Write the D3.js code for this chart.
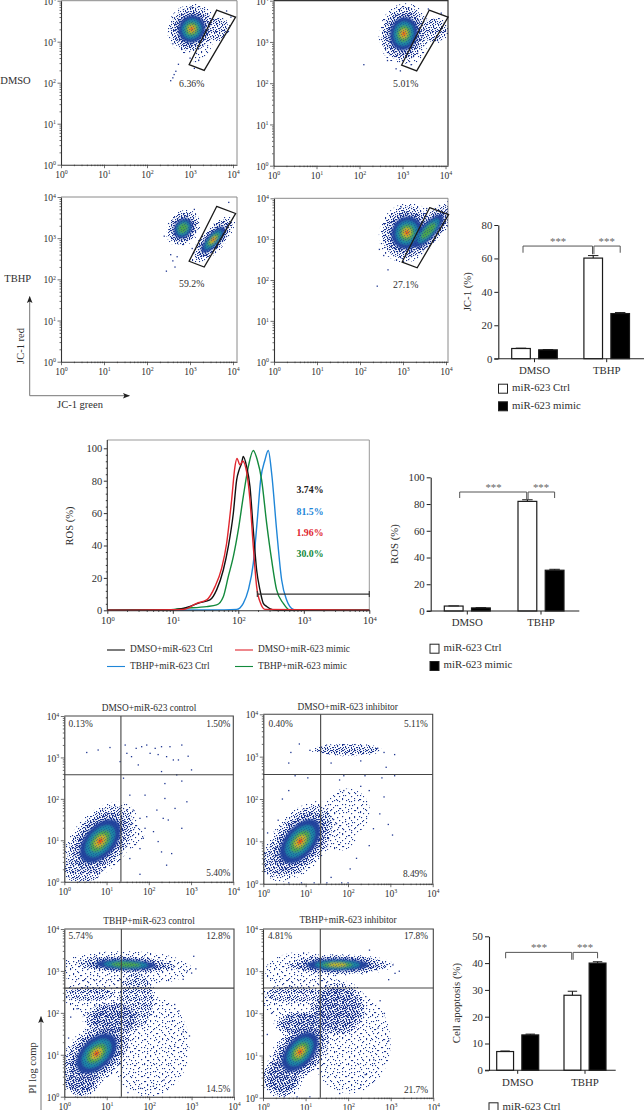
<!DOCTYPE html>
<html><head><meta charset="utf-8">
<script src="https://cdn.jsdelivr.net/npm/d3@7"></script>
<style>
html,body{margin:0;padding:0;background:#fff;overflow:hidden}
svg{display:block}
text{font-family:"Liberation Serif",serif;fill:#2e2e2e}
</style></head><body>
<svg id="c" width="644" height="1110"></svg>
<script>
// ---------- data ----------
// density regions: [log10 x, log10 y, semi-axis a, semi-axis b, tilt deg, peak level 0..7]
const jcDmsoCtrlRegions=[[3.62,3.31,.32,.3,0,1],[3.31,2.8,.38,.14,60,0],[3.04,3.31,.62,.56,70,7]];
const jcDmsoMimicRegions=[[3.73,3.28,.34,.32,0,1],[3.34,2.8,.42,.18,60,0],[3.03,3.2,.74,.58,80,7]];
const jcTbhpCtrlRegions=[[2.84,3.24,.47,.37,60,5],[3.54,2.96,.72,.27,50,7]];
const jcTbhpMimicRegions=[[3.09,3.16,.74,.64,70,7],[3.59,3.2,.92,.32,50,5]];
const apDmsoCtrlRegions=[[.45,.3,.5,.34,0,1],[1.55,1.13,.34,.32,0,0],[.85,.98,1.12,.66,50,7]];
const apDmsoInhRegions=[[.31,.52,.4,.4,0,1],[1.73,1.15,.5,.38,0,0],[1.97,3.16,.85,.15,0,1],[1.97,1.7,.55,.55,0,0],[.87,1.0,1.12,.64,50,7]];
const apTbhpCtrlRegions=[[2.0,1.2,.95,1.2,0,0],[1.4,3.05,1.6,.42,0,0],[1.0,2.4,1.0,.55,0,0],[.6,2.45,.65,.18,0,1],[1.7,2.3,.45,.75,0,1],[1.15,1.85,.72,.46,0,2],[.4,.38,.44,.4,0,2],[1.45,3.15,1.3,.22,-2,5],[.76,1.03,1.05,.64,45,7]];
const apTbhpInhRegions=[[2.05,1.3,.95,1.2,0,0],[.9,3.0,.85,.45,0,0],[1.0,2.3,1.0,.5,0,0],[.7,2.45,.72,.22,0,1],[1.75,2.1,.72,.7,0,2],[.95,1.75,.7,.32,0,2],[.45,.5,.48,.52,0,2],[1.75,3.15,1.32,.25,0,6],[.87,1.09,.98,.58,50,7]];
// single events: [log10 x, log10 y]
const jcDmsoCtrlEvents=[[2.55,2.05],[2.6,2.12],[2.63,2.2],[2.67,2.28],[2.73,2.45],[2.6,2.95],[3.02,3.85],[3.85,3.75],[3.95,3.6],[3.2,2.55],[3.1,2.35],[3.0,2.6]];
const jcDmsoMimicEvents=[[2.1,2.45],[2.65,2.55],[2.85,2.35],[2.95,2.3],[3.0,2.55],[3.2,2.45],[2.7,3.0],[3.9,3.7],[3.6,3.8]];
const jcTbhpCtrlEvents=[[2.45,2.2],[2.65,2.3],[2.6,2.45],[2.7,2.55],[2.4,3.05],[3.1,3.7],[3.9,3.87],[2.55,2.6],[3.05,2.75]];
const jcTbhpMimicEvents=[[2.4,1.85],[2.65,2.25],[2.55,2.6],[2.45,2.75],[2.95,3.8],[3.55,3.75]];
const apDmsoCtrlEvents=[[.53,3.12],[.8,3.18],[1.08,3.24],[1.32,2.9],[1.44,3.3],[1.48,3.1],[1.59,3.02],[1.7,3.22],[1.83,3.26],[1.95,3.3],[2.03,3.1],[2.15,3.22],[2.22,3.07],[2.3,3.26],[2.42,3.02],[2.5,3.26],[2.58,2.94],[2.7,2.94],[2.78,3.3],[2.93,3.03],[2.3,2.66],[2.66,2.58],[3.01,2.7],[1.75,2.82],[1.4,2.5],[1.55,2.09],[1.91,2.09],[2.38,2.37],[2.78,2.43],[2.9,1.93],[2.38,2.01],[2.62,1.77],[2.19,1.73],[1.95,1.57],[1.79,1.53],[2.34,1.53],[2.46,1.49],[2.78,1.29],[2.11,1.21],[1.87,1.05],[1.79,.8],[2.22,.97],[2.54,.68],[2.3,.72],[2.42,.4],[1.79,.18],[1.55,.56],[1.91,1.29],[1.63,1.73]];
const apDmsoInhEvents=[[.65,3.1],[.85,3.3],[.6,2.85],[1.1,3.15],[2.7,3.2],[2.85,3.1],[3.1,3.05],[2.9,2.75],[2.3,2.9],[1.6,2.85],[1.9,2.55],[1.8,2.45],[2.4,2.55],[2.8,2.5],[3.1,2.55],[.75,2.55],[1.05,2.5],[1.9,2.2],[2.3,2.3],[2.5,2.2],[2.85,2.05],[2.75,1.65],[2.95,1.4],[2.6,1.3],[3.05,1.15],[2.5,.9],[2.2,.6],[2.05,.35],[1.6,.15],[.6,.02],[.9,.02],[1.2,.02],[1.5,.02],[1.85,.02],[2.0,.02],[.1,1.2],[.35,1.5],[.45,2.0],[.6,2.2]];
const apTbhpCtrlEvents=[[3.1,3.05],[3.0,2.95],[2.9,3.0],[2.8,2.8],[3.05,3.35],[2.6,2.2],[2.7,2.05],[2.55,1.8],[2.8,1.55],[2.95,1.45],[2.6,1.2],[2.35,.4],[2.1,.25],[1.8,.2],[1.5,.1],[.1,1.4],[.15,1.9],[.3,2.1]];
const apTbhpInhEvents=[[3.2,3.0],[3.1,2.95],[3.05,3.15],[2.95,2.8],[2.75,2.3],[2.85,2.0],[2.7,1.65],[2.95,1.35],[2.6,.9],[2.4,.55],[2.3,.3],[1.8,.1],[.1,1.5],[.2,2.0],[2.5,3.5],[.5,.02],[.8,.02],[1.1,.02]];
// gate polygon in log10 coordinates
const gateCorners=[[3.62,3.77],[4.06,3.6],[3.33,2.3],[2.98,2.44]];
const decades=[0,1,2,3,4];

// ROS histogram: log10 fluorescence and percent of maximum
const rosBlackX=[0,.906,1.16,1.415,1.567,1.669,1.771,1.847,1.924,1.975,2.015,2.05,2.076,2.127,2.178,2.229,2.28,2.331,2.382,2.433,2.534,2.636,4];
const rosBlackY=[0,.2,1.2,4.7,6.4,12.6,24.9,39.3,59.9,80.5,87,90.7,94.9,88.7,76.3,49.6,24.9,12.6,4.3,2.3,.2,0,0];
const rosBlueX=[0,1.567,1.975,2.076,2.153,2.229,2.29,2.341,2.407,2.458,2.509,2.585,2.662,2.738,2.84,2.916,4];
const rosBlueY=[0,.2,.6,4.3,12.6,29,55.8,80.5,92.8,98.6,84.6,49.6,18.7,6.4,.6,0,0];
const rosGreenX=[0,.906,1.16,1.517,1.669,1.771,1.847,1.924,2.0,2.076,2.153,2.229,2.29,2.356,2.433,2.509,2.585,2.687,2.788,4];
const rosGreenY=[0,.2,1.2,2.3,3.3,8.4,20.8,33.1,49.6,70.2,88.7,98.6,92.8,80.5,53.7,31.1,12.6,4.3,.2,0];
const rosRedX=[0,1.16,1.364,1.517,1.644,1.746,1.822,1.898,1.949,1.98,2.025,2.066,2.127,2.178,2.229,2.28,2.34,2.407,4];
const rosRedY=[0,.5,4.3,6.4,14.6,26,41.4,68.1,88.7,93.8,89.7,92.2,85.4,68.1,39.3,14.6,4.3,.6,0];
const rosTicks=[0,20,40,60,80,100];
const rosGate=[2.29,4];
const rosGateLevel=10;

// bars
const barGroups=['DMSO','TBHP'];
const jcCtrl=[6.1,60.2],jcCtrlErr=[.2,1.5],jcMimic=[5.3,27],jcMimicErr=[.2,.6],jcTicks=[0,20,40,60,80];
const rosCtrl=[3.7,82],rosCtrlErr=[.1,1.2],rosMimic=[2.3,30.5],rosMimicErr=[.2,.7],rosBarTicks=[0,20,40,60,80,100];
const apCtrl=[7,28],apCtrlErr=[.2,1.5],apMimic=[13.2,40],apMimicErr=[.3,.5],apTicks=[0,10,20,30,40,50];

// ---------- drawing ----------
const svg=d3.select('#c');
const defs=svg.append('defs');
const BLUE='#1d3590';
// stipple tiles (texture only)
const tileA=[[1,1],[6,0],[3,4],[9,3],[0,7],[6,6],[10,8],[3,9]];
const tileB=[[2,0],[9,2],[14,1],[5,5],[12,6],[0,9],[8,10],[15,11],[3,13],[11,14]];
const tileC=[[0,0],[3,0],[6,1],[1,2],[4,3],[7,3],[2,4],[0,5],[5,5],[3,6],[7,6],[1,7],[5,7]];
const tileD=[[1,0],[4,1],[2,2],[0,3],[5,3],[3,4],[1,5],[4,5]];
function stipple(id,size,dots){
  const p=defs.append('pattern').attr('id',id).attr('width',size).attr('height',size).attr('patternUnits','userSpaceOnUse');
  p.selectAll('rect').data(dots).join('rect').attr('x',d=>d[0]).attr('y',d=>d[1]).attr('width',1.1).attr('height',1.1).attr('fill',BLUE);
}
stipple('spA',12,tileA);stipple('spB',17,tileB);stipple('spC',8,tileC);stipple('spD',6,tileD);
defs.append('filter').attr('id','soft').append('feGaussianBlur').attr('stdDeviation',.3);
defs.append('filter').attr('id','soft2').append('feGaussianBlur').attr('stdDeviation',.9);
let clipN=0;
const stippleLevels=[['url(#spA)','url(#spB)'],['url(#spC)'],['url(#spC)','url(#spD)']];
const solidLevels=['#23459f','#1f86a4','#4aa54e','#c9b72a','#e2361c'];
const levelScale=[1,.88,.72,.55,.4,.27,.16,.07];

function sup(sel,exp,fs){
  sel.text(null);
  sel.append('tspan').text('10').attr('font-size',fs);
  sel.append('tspan').text(exp).attr('font-size',fs*.62).attr('dy',-fs*.36);
}
function minorValues(){
  const v=[];
  decades.forEach(d=>{ for(let k=1;k<10;k++){ const t=k*10**d; if(t<=1e4) v.push(t);} });
  return v;
}
const isMajor=d=>Math.abs(Math.log10(d)-Math.round(Math.log10(d)))<1e-6;
function logAxes(g,x,y,box,fs){
  const ax=g.append('g').attr('transform',`translate(0,${box.b})`).call(d3.axisBottom(x).tickValues(minorValues()).tickSize(1.5).tickSizeOuter(0));
  const ay=g.append('g').attr('transform',`translate(${box.l},0)`).call(d3.axisLeft(y).tickValues(minorValues()).tickSize(1.5).tickSizeOuter(0));
  [ax,ay].forEach((a,i)=>{
    a.select('.domain').attr('stroke','#333').attr('stroke-width',1.1);
    a.selectAll('.tick line').attr('stroke','#333').attr('stroke-width',.7).filter(isMajor).attr(i?'x2':'y2',i?-3.5:3.5);
    a.selectAll('.tick text').each(function(d){
      const s=d3.select(this);
      if(isMajor(d)){ sup(s,Math.round(Math.log10(d)),fs); if(i){s.attr('x',-5);s.attr('dy','.36em');} else {s.attr('y',6);} }
      else s.remove();
    });
  });
}
function ellipsePath(x,y,r,f){
  const th=r[4]*Math.PI/180, pts=d3.range(0,Math.PI*2+.01,Math.PI/18).map(t=>{
    const u=r[2]*f*Math.cos(t), v=r[3]*f*Math.sin(t);
    return [x(10**(r[0]+u*Math.cos(th)-v*Math.sin(th))), y(10**(r[1]+u*Math.sin(th)+v*Math.cos(th)))];
  });
  return d3.line().curve(d3.curveCardinalClosed)(pts);
}
function flowPanel(o){
  const b=o.box, x=d3.scaleLog().domain([1,o.xMax]).range([b.l,b.r]), y=d3.scaleLog().domain([1,o.yMax||1e4]).range([b.b,b.t]);
  const g=svg.append('g');
  const id='clip'+(clipN++);
  defs.append('clipPath').attr('id',id).append('rect').attr('x',b.l).attr('y',b.t).attr('width',b.r-b.l).attr('height',b.b-b.t);
  const clip=g.append('g').attr('clip-path',`url(#${id})`);
  const dots=clip.append('g').attr('filter','url(#soft)');
  stippleLevels.forEach((fills,lev)=>fills.forEach(fill=>{
    dots.append('g').selectAll('path').data(o.regions.filter(r=>r[5]>=lev)).join('path')
      .attr('d',r=>ellipsePath(x,y,r,levelScale[lev])).attr('fill',fill);
  }));
  const core=clip.append('g').attr('filter','url(#soft2)');
  solidLevels.forEach((fill,i)=>{
    const lev=i+3;
    core.append('g').selectAll('path').data(o.regions.filter(r=>r[5]>=lev)).join('path')
      .attr('d',r=>ellipsePath(x,y,r,levelScale[lev])).attr('fill',fill);
  });
  clip.append('g').selectAll('path').data(o.regions.filter(r=>r[5]>=3)).join('path')
    .attr('d',r=>ellipsePath(x,y,r,levelScale[3])).attr('fill','url(#spC)').attr('opacity',.45);
  clip.append('g').selectAll('rect').data(o.events).join('rect')
    .attr('x',d=>x(10**d[0])-.6).attr('y',d=>y(10**d[1])-.6).attr('width',1.3).attr('height',1.3).attr('fill',BLUE);
  g.append('path').attr('d',`M${b.l},${b.t}H${b.r}V${b.b}`).attr('fill','none').attr('stroke',o.frame||'#8a8a8a').attr('stroke-width',o.frameW||1);
  if(o.quad){
    g.append('line').attr('x1',x(10**o.quad[0])).attr('x2',x(10**o.quad[0])).attr('y1',b.t).attr('y2',b.b).attr('stroke','#444').attr('stroke-width',1.1);
    g.append('line').attr('x1',b.l).attr('x2',b.r).attr('y1',y(10**o.quad[1])).attr('y2',y(10**o.quad[1])).attr('stroke','#444').attr('stroke-width',1.1);
  }
  if(o.gate){
    g.append('path').attr('d',d3.line().curve(d3.curveLinearClosed)(gateCorners.map(c=>[x(10**c[0]),y(10**c[1])]))).attr('fill','none').attr('stroke','#1a1a1a').attr('stroke-width',1.3);
  }
  logAxes(g,x,y,b,o.fs||9.5);
}
function label(t,xp,yp,fs,col,rot,weight){
  const s=svg.append('text').text(t).attr('text-anchor','middle').attr('dominant-baseline','middle').attr('font-size',fs);
  if(rot) s.attr('transform',`translate(${xp},${yp}) rotate(${rot})`); else s.attr('x',xp).attr('y',yp);
  if(col) s.style('fill',col);
  if(weight) s.attr('font-weight',weight);
  return s;
}
flowPanel({box:{l:61,r:237,t:.7,b:164.7},xMax:10**(176/43),regions:jcDmsoCtrlRegions,events:jcDmsoCtrlEvents,gate:true});
flowPanel({box:{l:273.5,r:448,t:.7,b:165.7},xMax:10**(174.5/43),regions:jcDmsoMimicRegions,events:jcDmsoMimicEvents,gate:true,frame:'#333',frameW:1.2});
flowPanel({box:{l:61,r:237,t:197,b:361.7},xMax:10**(176/43),regions:jcTbhpCtrlRegions,events:jcTbhpCtrlEvents,gate:true});
flowPanel({box:{l:274,r:448,t:198.3,b:361.7},xMax:10**(174/43),regions:jcTbhpMimicRegions,events:jcTbhpMimicEvents,gate:true});
[['6.36%',191.7,84.7],['5.01%',405.7,84.7],['59.2%',191.7,285],['27.1%',405.7,285.7]].forEach(d=>label(d[0],d[1],d[2],9.8));
label('DMSO',15.5,81.7,10.5);label('TBHP',17.7,279.3,10.5);
label('JC-1 red',21.7,346,10.5,null,-90);label('JC-1 green',80,405.7,10.5);
function arrowHead(id){
  defs.append('marker').attr('id',id).attr('viewBox','0 0 10 10').attr('refX',9).attr('refY',5).attr('markerWidth',8).attr('markerHeight',7).attr('orient','auto')
    .append('path').attr('d','M0,1L10,5L0,9L2,5Z').attr('fill','#222');
}
arrowHead('arr');
const arrow=(x1,y1,x2,y2)=>svg.append('line').attr('x1',x1).attr('y1',y1).attr('x2',x2).attr('y2',y2).attr('stroke','#777').attr('stroke-width',1).attr('marker-end','url(#arr)');
arrow(29.7,395.7,29.7,296.7);arrow(29.7,395.7,129.3,395.7);
arrow(41,1110,41,1016.7);
label('PI log comp',34,1068,10.5,null,-90);

const quadP={xMax:1e4,frame:'#444',frameW:1.1,fs:9.5};
flowPanel({...quadP,box:{l:64.3,r:233.3,t:716,b:881.7},regions:apDmsoCtrlRegions,events:apDmsoCtrlEvents,quad:[1.34,2.58]});
flowPanel({...quadP,box:{l:263.3,r:432.7,t:714.3,b:883.7},regions:apDmsoInhRegions,events:apDmsoInhEvents,quad:[1.354,2.58]});
flowPanel({...quadP,box:{l:64.3,r:234,t:929,b:1096.7},regions:apTbhpCtrlRegions,events:apTbhpCtrlEvents,quad:[1.345,2.59]});
flowPanel({...quadP,box:{l:263,r:433.3,t:929,b:1097.7},regions:apTbhpInhRegions,events:apTbhpInhEvents,quad:[1.346,2.6]});
[['DMSO+miR-623 control',149,708.7],['DMSO+miR-623 inhibitor',347.7,707.7],['TBHP+miR-623 control',149,921.7],['TBHP+miR-623 inhibitor',348,920.7]].forEach(d=>label(d[0],d[1],d[2],9.4));
[['0.13%',80.7,725],['1.50%',218.3,725],['5.40%',218.3,874],['0.40%',280.7,725],['5.11%',416,725],['8.49%',415,875],['5.74%',80.7,937.3],['12.8%',218.3,936.7],['14.5%',218.3,1090],['4.81%',280,936.7],['17.8%',416,936.7],['21.7%',416,1091]].forEach(d=>label(d[0],d[1],d[2],9.4));

(function(){
  const b={l:107.3,r:369.3,t:440,b:610.3};
  const x=d3.scaleLog().domain([1,1e4]).range([b.l,b.r]), y=d3.scaleLinear().domain([0,100]).range([b.b,448.3]);
  const g=svg.append('g');
  g.append('path').attr('d',`M${b.l},${b.t}H${b.r}V${b.b}`).attr('fill','none').attr('stroke','#999').attr('stroke-width',1);
  const series=[[rosBlueX,rosBlueY,'#1f86d8'],[rosGreenX,rosGreenY,'#138a3c'],[rosBlackX,rosBlackY,'#111'],[rosRedX,rosRedY,'#e0262e']];
  series.forEach(s=>{
    g.append('path').attr('d',d3.line().x(d=>x(10**d)).y((d,i)=>y(s[1][i])).curve(d3.curveMonotoneX)(s[0])).attr('fill','none').attr('stroke',s[2]).attr('stroke-width',1.4);
  });
  g.append('line').attr('x1',x(10**rosGate[0])).attr('x2',x(10**rosGate[1])).attr('y1',y(rosGateLevel)).attr('y2',y(rosGateLevel)).attr('stroke','#333').attr('stroke-width',1.1);
  rosGate.forEach(v=>g.append('line').attr('x1',x(10**v)).attr('x2',x(10**v)).attr('y1',y(rosGateLevel)-3).attr('y2',y(rosGateLevel)+3).attr('stroke','#333').attr('stroke-width',1.1));
  const ax=g.append('g').attr('transform',`translate(0,${b.b})`).call(d3.axisBottom(x).tickValues(minorValues()).tickSize(1.5).tickSizeOuter(0));
  ax.select('.domain').attr('stroke','#333').attr('stroke-width',1.1);
  ax.selectAll('.tick line').attr('stroke','#333').filter(isMajor).attr('y2',3.5);
  ax.selectAll('.tick text').each(function(d){const s=d3.select(this); if(isMajor(d)){sup(s,Math.round(Math.log10(d)),10.5);s.attr('y',7);} else s.remove();});
  const ay=g.append('g').attr('transform',`translate(${b.l},0)`).call(d3.axisLeft(y).tickValues(d3.range(0,101,4)).tickSize(1.5).tickSizeOuter(0).tickFormat(d=>rosTicks.includes(d)?d:''));
  ay.select('.domain').attr('d',`M0,${b.b}V${b.t}`).attr('stroke','#333').attr('stroke-width',1.1);
  ay.selectAll('.tick line').attr('stroke','#333').filter(d=>rosTicks.includes(d)).attr('x2',-3.5);
  ay.selectAll('.tick text').attr('font-size',10.5).attr('font-family','Liberation Serif').attr('x',-5);
  label('ROS (%)',71,526,10.5,null,-90);
  [['3.74%',310,491,'#222'],['81.5%',310,512.7,'#1f86d8'],['1.96%',310,534,'#e0262e'],['30.0%',310,555,'#138a3c']].forEach(d=>label(d[0],d[1],d[2],9.8,d[3],null,'bold'));
  const leg=[[107,650,125,'DMSO+miR-623 Ctrl','#111',130],[235,650,253,'DMSO+miR-623 mimic','#e0262e',258],[107,666.5,125,'TBHP+miR-623 Ctrl','#1f86d8',130],[235,666.5,253,'TBHP+miR-623 mimic','#138a3c',258]];
  leg.forEach(d=>{
    g.append('line').attr('x1',d[0]).attr('x2',d[2]).attr('y1',d[1]).attr('y2',d[1]).attr('stroke',d[4]).attr('stroke-width',1.1);
    svg.append('text').text(d[3]).attr('x',d[5]).attr('y',d[1]).attr('dominant-baseline','middle').attr('font-size',9.4);
  });
})();

function barChart(o){
  const y=d3.scaleLinear().domain([0,o.max]).range([o.y0,o.yTop]);
  const step=o.c1-o.c0;
  const x=d3.scaleBand().domain(barGroups).range([o.c0-step/2,o.c1+step/2]);
  const sub=d3.scaleBand().domain(['ctrl','mimic']).range([-o.half,o.half]).paddingInner(o.gap);
  const g=svg.append('g');
  const series=[['ctrl',o.ctrl,o.ctrlErr,'#fff'],['mimic',o.mimic,o.mimicErr,'#000']];
  series.forEach(s=>barGroups.forEach((gr,i)=>{
    const bx=x(gr)+x.bandwidth()/2+sub(s[0]), w=sub.bandwidth();
    g.append('rect').attr('x',bx).attr('y',y(s[1][i])).attr('width',w).attr('height',y(0)-y(s[1][i])).attr('fill',s[3]).attr('stroke','#1a1a1a').attr('stroke-width',1.2);
    const top=y(s[1][i]+s[2][i]);
    g.append('line').attr('x1',bx+w/2).attr('x2',bx+w/2).attr('y1',y(s[1][i])).attr('y2',top).attr('stroke','#1a1a1a').attr('stroke-width',1.1);
    g.append('line').attr('x1',bx+w*.22).attr('x2',bx+w*.78).attr('y1',top).attr('y2',top).attr('stroke','#1a1a1a').attr('stroke-width',1);
  }));
  const ay=g.append('g').attr('transform',`translate(${o.ax},0)`).call(d3.axisLeft(y).tickValues(o.ticks).tickSize(4).tickSizeOuter(0));
  ay.select('.domain').attr('stroke','#222').attr('stroke-width',1.1);
  ay.selectAll('.tick line').attr('stroke','#222').attr('stroke-width',1);
  ay.selectAll('.tick text').attr('font-size',10.8).attr('font-family','Liberation Serif').attr('x',-6);
  g.append('line').attr('x1',o.ax-4).attr('x2',o.axEnd).attr('y1',o.y0).attr('y2',o.y0).attr('stroke','#222').attr('stroke-width',1.1);
  barGroups.forEach(gr=>{
    const c=x(gr)+x.bandwidth()/2;
    g.append('line').attr('x1',c).attr('x2',c).attr('y1',o.y0).attr('y2',o.y0+3.5).attr('stroke','#222').attr('stroke-width',1);
    label(gr,c,o.y0+o.catDy,10.8);
  });
  label(o.title,o.titleX,o.titleY,10.8,null,-90);
  const cc=(gr,k)=>x(gr)+x.bandwidth()/2+sub(k)+sub.bandwidth()/2;
  const bt=y(o.brTop), bd=y(o.brDrop);
  const a=cc('DMSO','ctrl')+o.brLeftShift, m=cc('TBHP','ctrl'), n=cc('TBHP','mimic');
  g.append('path').attr('d',`M${a},${bd}V${bt}H${m-.7}V${bd+1.5}M${m+.7},${bd+1.5}V${bt}H${n}V${bd}`).attr('fill','none').attr('stroke','#555').attr('stroke-width',1);
  label('***',(a+m)/2,bt-3.6,10.8,'#666');
  label('***',(m+n)/2,bt-3.6,10.8,'#666');
  [['miR-623 Ctrl','#fff',o.legY0],['miR-623 mimic','#000',o.legY1]].forEach(d=>{
    if(d[2]==null) return;
    svg.append('rect').attr('x',o.legX).attr('y',d[2]-4.5).attr('width',9).attr('height',9).attr('fill',d[1]).attr('stroke','#222').attr('stroke-width',1);
    svg.append('text').text(d[0]).attr('x',o.legX+13.5).attr('y',d[2]).attr('dominant-baseline','middle').attr('font-size',10.8);
  });
}
barChart({ctrl:jcCtrl,ctrlErr:jcCtrlErr,mimic:jcMimic,mimicErr:jcMimicErr,ticks:jcTicks,max:80,y0:358.7,yTop:225,c0:534.5,c1:606.7,half:22.8,gap:.31,ax:498.3,axEnd:644,catDy:12.5,title:'JC-1 (%)',titleX:468.3,titleY:291.7,brTop:67.4,brDrop:63.4,brLeftShift:2,legX:498.5,legY0:388.7,legY1:406.3});
barChart({ctrl:rosCtrl,ctrlErr:rosCtrlErr,mimic:rosMimic,mimicErr:rosMimicErr,ticks:rosBarTicks,max:100,y0:611,yTop:477.3,c0:467.3,c1:541,half:23,gap:.31,ax:430.7,axEnd:579.3,catDy:12.5,title:'ROS (%)',titleX:396,titleY:544,brTop:89,brDrop:84.5,brLeftShift:6,legX:430,legY0:648.7,legY1:666});
barChart({ctrl:apCtrl,ctrlErr:apCtrlErr,mimic:apMimic,mimicErr:apMimicErr,ticks:apTicks,max:50,y0:1070.3,yTop:936.3,c0:517.7,c1:585,half:21,gap:.33,ax:489,axEnd:615.7,catDy:13,title:'Cell apoptosis (%)',titleX:457.3,titleY:1003,brTop:44,brDrop:41.8,brLeftShift:.5,legX:489,legY0:1107.3,legY1:null});
</script>
</body></html>
